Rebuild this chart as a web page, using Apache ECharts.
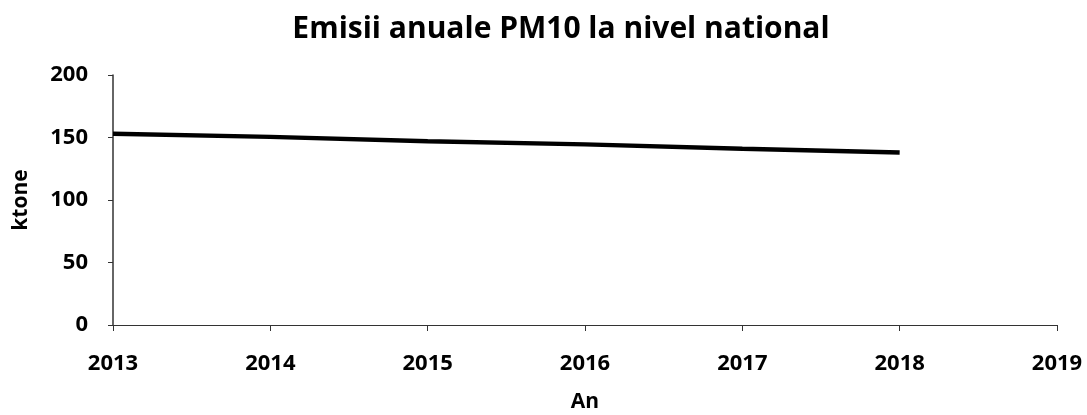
<!DOCTYPE html>
<html>
<head>
<meta charset="utf-8">
<title>Emisii anuale PM10</title>
<script src="https://cdn.jsdelivr.net/npm/echarts@6/dist/echarts.min.js"></script>
<style>
  html, body { margin: 0; padding: 0; background: #fff; }
  #chart { width: 1087px; height: 415px; }
</style>
</head>
<body>
<div id="chart"></div>
<script>
// ani si emisii PM10 (ktone)
const years = [2013, 2014, 2015, 2016, 2017, 2018];
const emissions = [153, 150.5, 147, 144.5, 141, 138];
const yTicks = [0, 50, 100, 150, 200];

const font = '"Open Sans", Lato, sans-serif';

const chart = echarts.init(document.getElementById('chart'));
chart.setOption({
  animation: false,
  title: {
    text: 'Emisii anuale PM10 la nivel national',
    left: 556,
    top: 9,
    textAlign: 'center',
    textStyle: { fontFamily: font, fontSize: 30, fontWeight: 'bold', color: '#000' }
  },
  grid: { left: 113, right: 30, top: 75, bottom: 90, outerBoundsMode: 'none' },
  xAxis: {
    type: 'value',
    min: 2013,
    max: 2019,
    interval: 1,
    name: 'An',
    nameLocation: 'middle',
    nameGap: 67,
    nameTextStyle: { fontFamily: font, fontSize: 21, fontWeight: 'bold', color: '#000' },
    splitLine: { show: false },
    axisLine: { lineStyle: { color: '#333', width: 1 } },
    axisTick: { show: true, length: 6, lineStyle: { color: '#333' } },
    axisLabel: {
      margin: 28,
      fontFamily: font, fontSize: 22, fontWeight: 'bold', color: '#000',
      formatter: v => String(v)
    }
  },
  yAxis: {
    type: 'value',
    min: yTicks[0],
    max: yTicks[yTicks.length - 1],
    interval: 50,
    name: 'ktone',
    nameLocation: 'middle',
    nameGap: 81,
    nameRotate: 90,
    nameTextStyle: { fontFamily: font, fontSize: 21, fontWeight: 'bold', color: '#000' },
    splitLine: { show: false },
    axisLine: { show: true, lineStyle: { color: '#333', width: 1.5 } },
    axisTick: { show: true, length: 5, lineStyle: { color: '#333' } },
    axisLabel: { margin: 25, fontFamily: font, fontSize: 22, fontWeight: 'bold', color: '#000' }
  },
  series: [{
    type: 'line',
    data: years.map((y, i) => [y, emissions[i]]),
    showSymbol: false,
    lineStyle: { color: '#000', width: 4.5 }
  }]
});
</script>
</body>
</html>
